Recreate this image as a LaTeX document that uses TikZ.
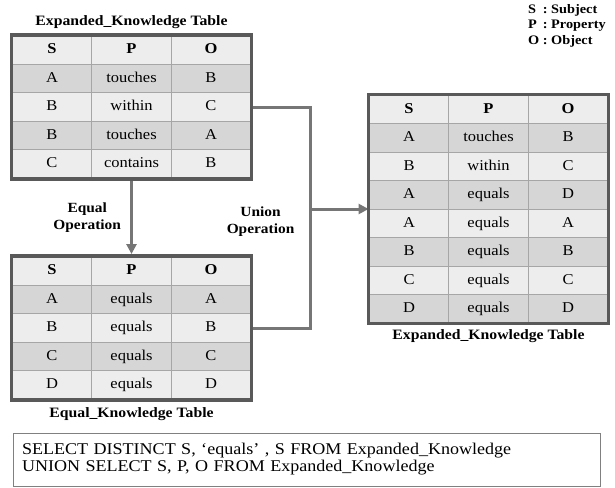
\documentclass[tikz,border=0pt]{standalone}
\usepackage{fontspec}
\setmainfont[FakeStretch=1.1]{Liberation Serif}
\usetikzlibrary{matrix, positioning, arrows.meta}

\definecolor{lightrow}{HTML}{EDEDED}
\definecolor{darkrow}{HTML}{D6D6D6}
\definecolor{gridgray}{HTML}{A6A6A6}
\definecolor{framegray}{HTML}{595959}
\definecolor{linkgray}{HTML}{767676}
\definecolor{boxgray}{HTML}{808080}

\tikzset{
  kbtable/.style={matrix of nodes, inner sep=0pt, column sep=-1pt, row sep=-1pt,
    nodes={draw=gridgray, line width=1pt, fill=lightrow, minimum width=79.5pt,
      minimum height=28.5pt, inner sep=0pt, text height=10.5pt, text depth=3pt,
      font=\fontsize{15}{18}\selectfont},
    row 1/.style={nodes={font=\fontsize{15}{18}\selectfont\bfseries}},
    row 2/.style={nodes={fill=darkrow}},
    row 4/.style={nodes={fill=darkrow}},
    row 6/.style={nodes={fill=darkrow}},
    row 8/.style={nodes={fill=darkrow}}},
  tblframe/.style={draw=framegray, line width=3.5pt},
  link/.style={draw=linkgray, line width=3pt},
  ttl/.style={font=\fontsize{14.3}{16}\selectfont\bfseries, inner sep=0pt},
  oplabel/.style={font=\fontsize{14}{17}\selectfont\bfseries, inner sep=0pt,
    align=center},
  legend/.style={font=\fontsize{13}{15.7}\selectfont\bfseries, inner sep=0pt},
  sqlbox/.style={draw=boxgray, line width=1pt, align=left, text width=569pt,
    inner xsep=9pt, minimum height=53pt, font=\fontsize{16.4}{17}\selectfont}
}

\begin{document}
\begin{tikzpicture}[x=1pt, y=-1pt, >={Triangle[length=10pt, width=10pt]},
                    line join=miter]
  \useasboundingbox (0,0) rectangle (615,487);

  % Tablas de conocimiento.
  \matrix (t1) [kbtable] at (131.5,107) {
    S & P & O \\
    A & touches & B \\
    B & within & C \\
    B & touches & A \\
    C & contains & B \\
  };
  \matrix (t2) [kbtable] at (131.5,328) {
    S & P & O \\
    A & equals & A \\
    B & equals & B \\
    C & equals & C \\
    D & equals & D \\
  };
  \matrix (t3) [kbtable] at (488.5,209) {
    S & P & O \\
    A & touches & B \\
    B & within & C \\
    A & equals & D \\
    A & equals & A \\
    B & equals & B \\
    C & equals & C \\
    D & equals & D \\
  };

  % Operaciones entre tablas.
  \coordinate (ujoin) at ([xshift=-58pt]t3.west);
  \draw[link, ->, shorten >=2pt] (t1.south) --
    node[oplabel, left=9pt] {Equal\\Operation} (t2.north);
  \draw[link] (t1-3-3.east) -| (ujoin) |- (t2-3-3.east);
  \draw[link, ->] (ujoin) -- (t3.west);
  \node[oplabel, left=16pt of ujoin, yshift=-13pt] (ulabel)
    {Union\\Operation};

  % Marcos de las tablas.
  \foreach \t in {t1, t2, t3}
    \draw[tblframe] (\t.north west) rectangle (\t.south east);

  % Titulos.
  \node[ttl, above=10pt of t1.north, anchor=base] (t1title)
    {Expanded\_Knowledge Table};
  \node[ttl, below=18pt of t2.south, anchor=base] (t2title)
    {Equal\_Knowledge Table};
  \node[ttl, below=16pt of t3.south, anchor=base] (t3title)
    {Expanded\_Knowledge Table};

  % Leyenda y consulta.
  \node[legend, anchor=north west] (legend) at (528,2)
    {\begin{tabular}{@{}l@{ : }l@{}}S & Subject\\ P & Property\\ O & Object\end{tabular}};
  \node[sqlbox] (sql) at (306.5,459.5)
    {SELECT DISTINCT S, `equals' , S FROM Expanded\_Knowledge\\
     UNION SELECT S, P, O FROM Expanded\_Knowledge};
\end{tikzpicture}
\end{document}
